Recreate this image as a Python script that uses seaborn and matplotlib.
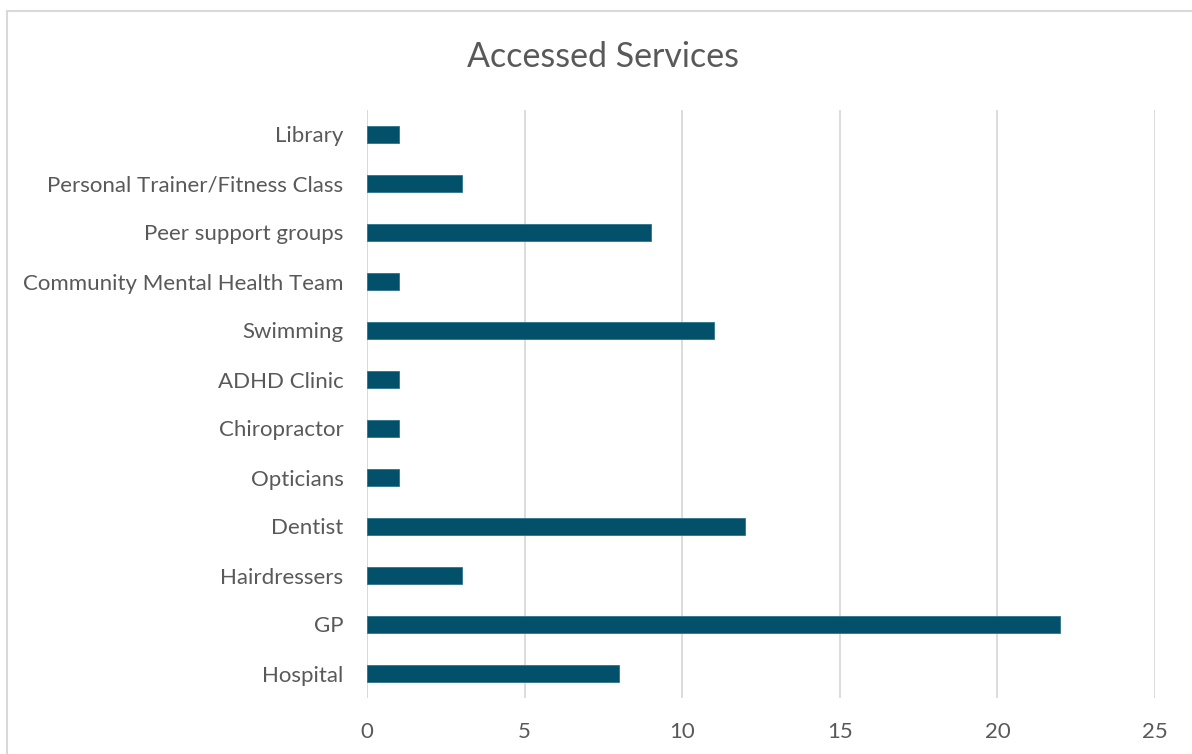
import matplotlib
matplotlib.use("Agg")
import matplotlib.pyplot as plt
import seaborn as sns
import pandas as pd
from matplotlib.patches import Rectangle

categories = ["Library", "Personal Trainer/Fitness Class", "Peer support groups",
              "Community Mental Health Team", "Swimming", "ADHD Clinic",
              "Chiropractor", "Opticians", "Dentist", "Hairdressers", "GP", "Hospital"]
values = [1, 3, 9, 1, 11, 1, 1, 1, 12, 3, 22, 8]
xticks = [0, 5, 10, 15, 20, 25]

sns.set_theme(style="white")
plt.rcParams['font.family'] = ['Lato', 'DejaVu Sans']

df = pd.DataFrame({"Service": categories, "Count": values})

fig = plt.figure(figsize=(11.92, 7.54), dpi=100)
ax = fig.add_axes([367/1192, 1 - 698/754, (1155 - 367)/1192, (698 - 110)/754])

sns.barplot(data=df, y="Service", x="Count", orient="h", color="#03506B",
            saturation=1, width=0.35, ax=ax, edgecolor="#2E7490", linewidth=0.6)

ax.set_xlim(0, 25)
ax.set_ylim(11.5, -0.5)
ax.set_xticks(xticks)
ax.set_xticklabels([str(t) for t in xticks])
ax.xaxis.grid(True, color="#D9D9D9", linewidth=1.3)
ax.set_axisbelow(True)
for s in ax.spines.values():
    s.set_visible(False)
ax.axvline(0, color="#D9D9D9", linewidth=1.3, zorder=0)
ax.set_xlabel("")
ax.set_ylabel("")
ax.tick_params(axis="both", length=0, labelsize=16, labelcolor="#595959")
ax.tick_params(axis="x", pad=17)
ax.tick_params(axis="y", pad=17)

fig.text(603/1192, 1 - 57/754, "Accessed Services", ha="center", va="center",
         fontsize=24.5, color="#595959")

fig.patches.append(Rectangle((7/1192, -0.1), 1.2, 1.1 - 11/754,
                             transform=fig.transFigure, fill=False,
                             edgecolor="#D9D9D9", linewidth=1.5))

fig.savefig("out.png", dpi=100)
